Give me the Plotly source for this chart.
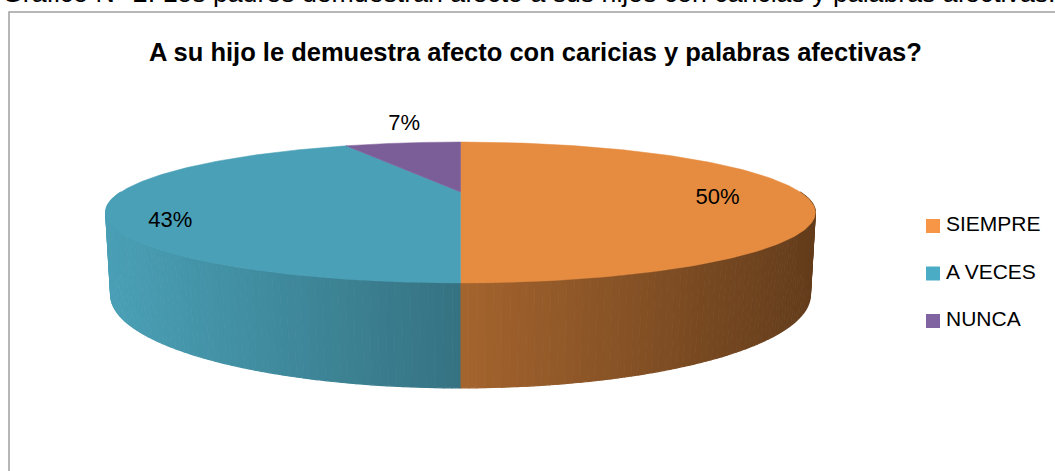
import numpy as np
import plotly.graph_objects as go

# ---------------- data ----------------
categories = ["SIEMPRE", "A VECES", "NUNCA"]
values = [50, 43, 7]
title_text = "A su hijo le demuestra afecto con caricias y palabras afectivas?"
caption_text = "Gráfico N° 2: Los padres demuestran afecto a sus hijos con caricias y palabras afectivas."

# ---------------- style ----------------
top_colors = [(230, 140, 64), (74, 160, 182), (123, 93, 152)]
legend_colors = ["#F79646", "#4BACC6", "#8064A2"]
label_radius = [0.757, 0.83, 1.38]
label_dx = [0, 0, 17]
label_dy = [6, 17, -5]
FONT = "Liberation Sans"

# perspective geometry of the 3D pie (pixel space)
ELEV = np.radians(10.95)
SA, CA = np.sin(ELEV), np.cos(ELEV)
DIST = 3.378
FOC = 1147.0
HGT = 0.231
CX, CY = 460.5, 192.0


def proj(X, Y, Z):
    X, Y, Z = np.asarray(X, float), np.asarray(Y, float), np.asarray(Z, float)
    yc = Y * CA + Z * SA
    d = DIST + Z * CA - Y * SA
    return CX + FOC * X / d, CY - FOC * yc / d


def rim(theta_deg, y=0.0, r=1.0):
    t = np.radians(theta_deg)
    return proj(r * np.sin(t), np.full_like(t, y, dtype=float), r * np.cos(t))


total = float(sum(values))
bounds = np.concatenate([[0.0], np.cumsum(values) / total * 360.0])

fig = go.Figure()

# ---- side wall (front half) as shaded strips ----
strips = []
step = 1.0
for i in range(len(values)):
    a0, a1 = max(bounds[i], 90.0), min(bounds[i + 1], 270.0)
    if a1 <= a0:
        continue
    edges = np.arange(a0, a1, step).tolist() + [a1]
    for t0, t1 in zip(edges[:-1], edges[1:]):
        strips.append((t0, t1, i))
strips.sort(key=lambda s: -abs((s[0] + s[1]) / 2 - 180.0))

for t0, t1, i in strips:
    th = np.linspace(t0, t1, 4)
    xt, yt = rim(th, 0.0)
    xb, yb = rim(th[::-1], -HGT)
    xs = np.concatenate([xt, xb])
    ys = np.concatenate([yt, yb])
    xm = xs.mean()
    f = 1.0 - 0.57 * (xm - 106.0) / 710.0
    f = min(max(f, 0.35), 1.0)
    c = top_colors[i]
    col = "rgb(%d,%d,%d)" % tuple(int(round(v * f)) for v in c)
    fig.add_trace(go.Scatter(x=xs, y=ys, mode="lines", fill="toself",
                             fillcolor=col, line=dict(color=col, width=1.2),
                             hoverinfo="skip", showlegend=False))

# ---- top faces ----
for i in range(len(values)):
    th = np.linspace(bounds[i], bounds[i + 1], 200)
    xr, yr = rim(th, 0.0)
    cx0, cy0 = proj(0.0, 0.0, 0.0)
    xs = np.concatenate([[cx0], xr, [cx0]])
    ys = np.concatenate([[cy0], yr, [cy0]])
    col = "rgb(%d,%d,%d)" % top_colors[i]
    fig.add_trace(go.Scatter(x=xs, y=ys, mode="lines", fill="toself",
                             fillcolor=col, line=dict(color=col, width=0.5),
                             hoverinfo="skip", showlegend=False))

# ---- data labels ----
lx, ly = [], []
for i in range(len(values)):
    mid = (bounds[i] + bounds[i + 1]) / 2
    x, y = rim(np.array([mid]), 0.0, label_radius[i])
    lx.append(float(x[0]) + label_dx[i])
    ly.append(float(y[0]) + label_dy[i])
fig.add_trace(go.Scatter(x=lx, y=ly, mode="text",
                         text=["%d%%" % v for v in values],
                         textposition="middle center",
                         textfont=dict(family=FONT, size=22, color="#000000"),
                         hoverinfo="skip", showlegend=False))

# ---- legend ----
leg_y = [226 + 47.5 * k for k in range(len(categories))]
fig.add_trace(go.Scatter(x=[933] * len(categories), y=leg_y, mode="markers",
                         marker=dict(symbol="square", size=14, color=legend_colors,
                                     line=dict(width=0)),
                         hoverinfo="skip", showlegend=False))
fig.add_trace(go.Scatter(x=[946] * len(categories), y=leg_y, mode="text",
                         text=categories, textposition="middle right",
                         textfont=dict(family=FONT, size=21, color="#000000"),
                         hoverinfo="skip", showlegend=False))

# ---- chart frame, title, caption ----
fig.add_shape(type="rect", xref="x", yref="y", x0=9, y0=12, x1=1070, y1=490,
              line=dict(color="#A0A0A0", width=1.5), fillcolor="rgba(0,0,0,0)",
              layer="below")
fig.add_annotation(x=535, y=52, xref="x", yref="y", text="<b>" + title_text + "</b>",
                   showarrow=False, xanchor="center", yanchor="middle",
                   font=dict(family=FONT, size=25.5, color="#000000"))
fig.add_annotation(x=0, y=10, xref="x", yref="y", text=caption_text,
                   showarrow=False, xanchor="left", yanchor="bottom",
                   font=dict(family="Liberation Sans", size=26.7, color="#000000"))

fig.update_layout(
    width=1055, height=471,
    margin=dict(l=0, r=0, t=0, b=0),
    paper_bgcolor="white", plot_bgcolor="white",
    xaxis=dict(range=[0, 1055], visible=False, fixedrange=True),
    yaxis=dict(range=[471, 0], visible=False, fixedrange=True),
    showlegend=False,
)

# remove the default 8px page margin so the figure sits at the window origin
fig.write_html("out.html",
               config={"displayModeBar": False},
               post_script="document.body.style.margin='0';"
                           "document.body.style.overflow='hidden';")
